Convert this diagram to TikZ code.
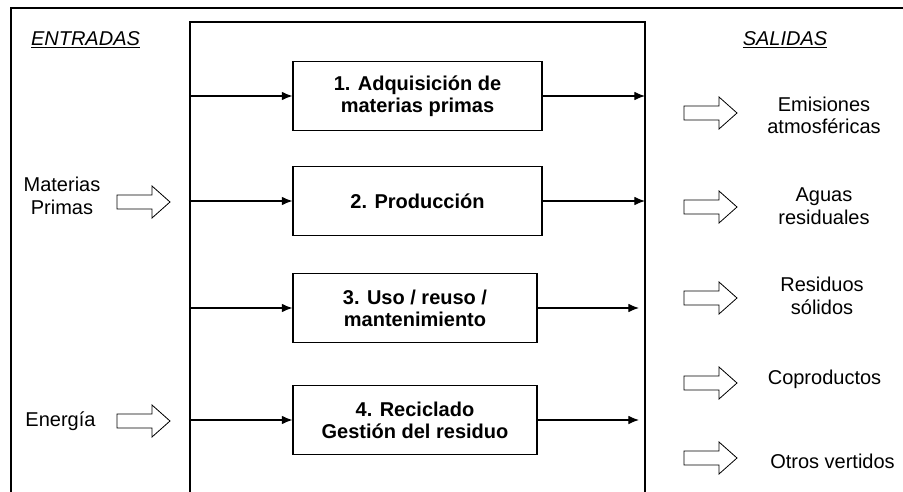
\documentclass[tikz,border=0pt]{standalone}
\usepackage{fontspec}
\setmainfont{Liberation Sans}
\usetikzlibrary{arrows.meta}

\begin{document}
\begin{tikzpicture}[x=0.75pt, y=-0.75pt,
        stage/.style={draw, line width=0.8pt, minimum height=52pt, inner sep=0pt, align=center,
            font=\fontsize{15}{16.5}\selectfont\bfseries},
        flow/.style={align=center, font=\fontsize{15}{17}\selectfont},
        >={Latex[length=8pt,width=6.5pt]},
        bigarrow/.pic={\draw[line width=0.6pt] (0,-7) -- (35,-7) -- (35,-16) -- (53,0) -- (35,16) -- (35,7) -- (0,7) -- cycle;}]
        \clip (0,0) rectangle (903,492);

        % frames
        \draw[line width=1.6pt] (11,500) -- (11,8) -- (910,8);
        \draw[line width=1pt] (190,500) -- (190,22) -- (645,22) -- (645,500);

        \node[flow] (ent) at (85.5,40) {\itshape\underline{ENTRADAS}};
        \node[flow] (sal) at (785,40) {\itshape\underline{SALIDAS}};

        % stages
        \node[stage, minimum width=186.75pt] (s1) at (417.5,96) {1. Adquisición de\\materias primas};
        \node[stage, minimum width=186.75pt] (s2) at (417.5,201) {2. Producción};
        \node[stage, minimum width=183pt] (s3) at (415,308) {3. Uso / reuso /\\mantenimiento};
        \node[stage, minimum width=183pt] (s4) at (415,420) {4. Reciclado\\Gestión del residuo};

        \coordinate (in1) at (190,96);
        \coordinate (in2) at (190,201);
        \coordinate (in3) at (190,308);
        \coordinate (in4) at (190,420);
        \coordinate (out1) at (645,96);
        \coordinate (out2) at (645,201);
        \coordinate (out3) at (639,308);
        \coordinate (out4) at (639,420);

        \foreach \i in {1,...,4} {
            \draw[->, line width=0.9pt] (in\i) -- (s\i);
            \draw[->, line width=0.9pt] (s\i) -- (out\i);
        }

        % inputs
        \node[flow] (mp) at (62,196) {Materias\\Primas};
        \node[flow] (en) at (60.5,421) {Energía};
        \pic at (117,202) {bigarrow};
        \pic at (117,421) {bigarrow};

        % outputs
        \foreach \y in {113,207,298,383,458}
            \pic at (684,\y) {bigarrow};
        \node[flow] (em) at (824,115.5) {Emisiones\\atmosféricas};
        \node[flow] (ag) at (824,206) {Aguas\\residuales};
        \node[flow] (rs) at (822,296) {Residuos\\sólidos};
        \node[flow] (co) at (824.5,379) {Coproductos};
        \node[flow] (ov) at (832.5,461) {Otros vertidos};
    \end{tikzpicture}
\end{document}
